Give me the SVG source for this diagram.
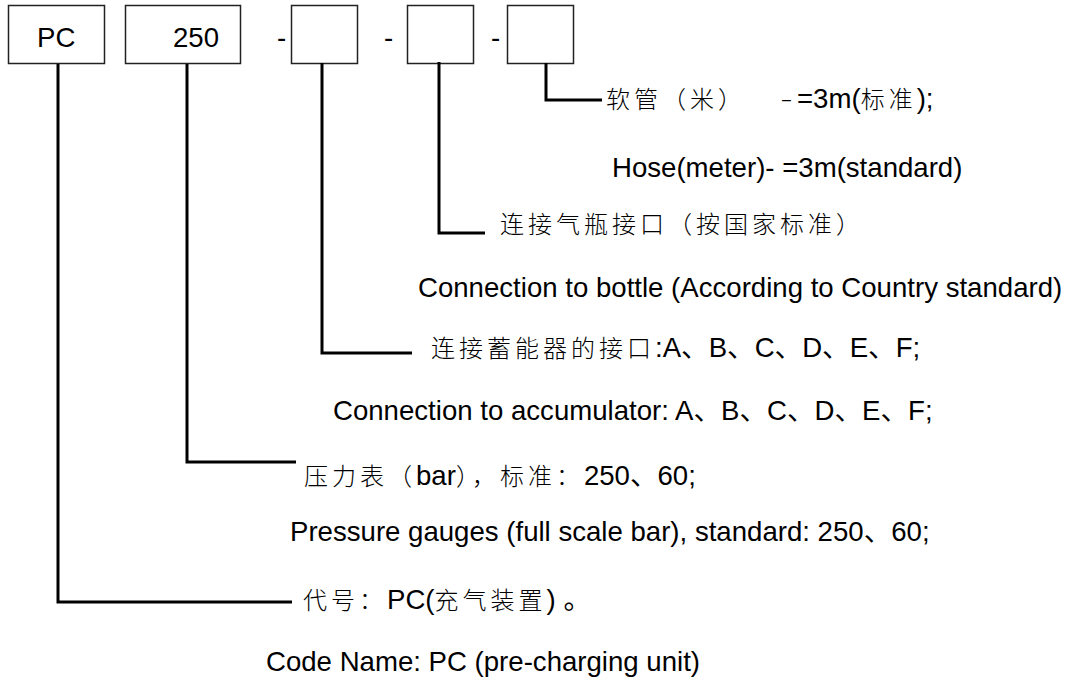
<svg xmlns="http://www.w3.org/2000/svg" width="1071" height="678" viewBox="0 0 1071 678">
<style>
.box{fill:#fff;stroke:#222;stroke-width:1.5}
.con{fill:none;stroke:#000;stroke-width:3}
text{font-family:"Liberation Sans","Noto Sans CJK SC",sans-serif;font-size:27.6px;fill:#000}
.cjk{font-family:"Noto Sans CJK SC",sans-serif;font-size:24px;font-weight:300;letter-spacing:4px}
</style>
<rect width="1071" height="678" fill="#fff"/>
<g id="node-pc"><rect class="box" x="8.5" y="5.5" width="96" height="58"/><text x="37" y="47">PC</text></g>
<g id="node-250"><rect class="box" x="125.5" y="5.5" width="115" height="58"/><text x="173" y="47">250</text></g>
<g id="node-box3"><text x="277" y="47">-</text><rect class="box" x="291.5" y="5.5" width="66" height="58"/></g>
<g id="node-box4"><text x="384" y="47">-</text><rect class="box" x="407.5" y="5.5" width="66" height="58"/></g>
<g id="node-box5"><text x="491" y="47">-</text><rect class="box" x="507.5" y="5.5" width="66" height="58"/></g>
<g id="connectors">
<path class="con" d="M58 64V602H292"/>
<path class="con" d="M187 64V462H296"/>
<path class="con" d="M322 63V353H412"/>
<path class="con" d="M439 62V233H485"/>
<path class="con" d="M546 63V100H602"/>
</g>
<g id="label-hose">
<text x="606" y="108"><tspan class="cjk">软管（米）</tspan><tspan x="782" dy="-3" font-size="16">–</tspan><tspan x="797" dy="3">=3m(</tspan><tspan class="cjk" letter-spacing="0">标准</tspan>);</text>
<text x="612" y="177">Hose(meter)- =3m(standard)</text>
</g>
<g id="label-bottle">
<text x="500" y="233"><tspan class="cjk">连接气瓶接口（按国家标准）</tspan></text>
<text x="418" y="297">Connection to bottle (According to Country standard)</text>
</g>
<g id="label-acc">
<text x="431" y="357"><tspan class="cjk">连接蓄能器的接口</tspan>:A、B、C、D、E、F;</text>
<text x="333" y="420">Connection to accumulator: A、B、C、D、E、F;</text>
</g>
<g id="label-gauge">
<text x="304" y="485"><tspan class="cjk">压力表（</tspan>bar<tspan class="cjk">），标准：</tspan>250、60;</text>
<text x="290" y="541">Pressure gauges (full scale bar), standard: 250、60;</text>
</g>
<g id="label-code">
<text x="303" y="609"><tspan class="cjk">代号：</tspan>PC(<tspan class="cjk">充气装置</tspan>) 。</text>
<text x="266" y="671">Code Name: PC (pre-charging unit)</text>
</g>
</svg>
